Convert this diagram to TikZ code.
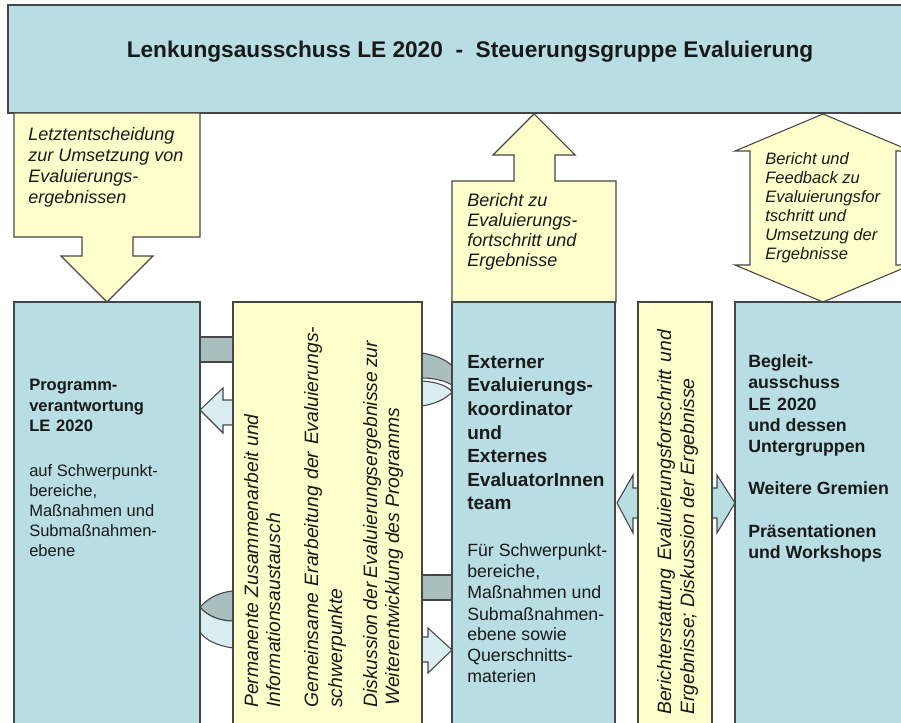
\documentclass[tikz,border=0pt]{standalone}
\usepackage{fontspec}
\setmainfont{Liberation Sans}
\definecolor{boxblue}{RGB}{184,222,228}
\definecolor{boxyellow}{RGB}{255,255,204}
\definecolor{bandgray}{RGB}{168,190,191}
\definecolor{lightblue}{RGB}{218,238,242}
\definecolor{edge}{RGB}{70,70,70}
\definecolor{ink}{RGB}{25,25,25}
\newcommand\fs[2]{\fontsize{#1}{#2}\selectfont}
\begin{document}
\begin{tikzpicture}[x=0.75pt,y=-0.75pt,
  shp/.style={draw=edge, line width=0.8pt, line join=miter},
  bluebox/.style={shp, fill=boxblue},
  yellowbox/.style={shp, fill=boxyellow},
  grayband/.style={shp, fill=bandgray},
  lightarrow/.style={shp, fill=lightblue},
  txt/.style={inner sep=0pt, anchor=base west, align=left, text=ink},
  rot/.style={inner sep=0pt, anchor=base west, rotate=90, text=ink, font=\fs{14.5}{17}\itshape}]
\useasboundingbox (0,0) rectangle (901,723);
\clip (0,0) rectangle (901,723);

% top box
\draw[bluebox] (8,5) rectangle (930,113);
\node[inner sep=0pt, anchor=base, text=ink, font=\fs{17}{20}\bfseries] (title) at (470,58)
  {Lenkungsausschuss LE 2020\ \ -\ \ Steuerungsgruppe Evaluierung};

% block arrows between top and bottom
\draw[yellowbox] (14,113) -- (200,113) -- (200,237) -- (133,237) -- (133,256) -- (153,256)
  -- (107,302) -- (61,256) -- (82,256) -- (82,237) -- (14,237) -- cycle;
\draw[yellowbox] (452,302) -- (452,181) -- (514,181) -- (514,155) -- (493,155) -- (534,114)
  -- (575,155) -- (555,155) -- (555,181) -- (616,181) -- (616,302) -- cycle;
\draw[yellowbox] (823,114) -- (911,151) -- (896,151) -- (896,265) -- (911,265) -- (823,302)
  -- (735,265) -- (750,265) -- (750,151) -- (735,151) -- cycle;

% connectors between bottom boxes
\draw[grayband] (195,337) rectangle (240,362);
\draw[lightarrow] (200,410) -- (223,388) -- (223,400) -- (240,400) -- (240,425) -- (223,425) -- (223,433) -- cycle;
\draw[grayband] (200,607) .. controls (210,596) and (222,592) .. (233,591) -- (233,621)
  .. controls (220,621) and (207,616) .. (200,607) -- cycle;
\draw[lightarrow] (200,607) .. controls (207,616) and (220,621) .. (233,621) -- (233,648)
  .. controls (218,646) and (205,640) .. (200,632) -- cycle;

\draw[grayband] (422,353) .. controls (435,355) and (447,360) .. (452,366) -- (452,385)
  .. controls (445,381) and (435,378) .. (422,378) -- cycle;
\draw[lightarrow] (422,381) .. controls (437,382) and (448,386) .. (452,392)
  .. controls (446,399) and (435,404) .. (422,406) -- cycle;
\draw[grayband] (415,575) rectangle (460,600);
\draw[lightarrow] (452,650) -- (428,628) -- (428,637) -- (415,637) -- (415,662) -- (428,662) -- (428,673) -- cycle;

\draw[bluebox] (617,503) -- (633,475) -- (633,488) -- (717,488) -- (717,475) -- (735,503)
  -- (717,533) -- (717,518) -- (633,518) -- (633,533) -- cycle;

% bottom boxes
\draw[bluebox] (14,302) rectangle (200,740);
\draw[yellowbox] (233,302) rectangle (422,740);
\draw[bluebox] (452,302) rectangle (615,740);
\draw[yellowbox] (638,302) rectangle (712,740);
\draw[bluebox] (735,302) rectangle (930,740);

% arrow texts (anchor = baseline of the last line)
\node[txt, font=\fs{13.5}{15.75}\itshape] (t1) at (28,204)
  {Letztentscheidung\\zur Umsetzung von\\Evaluierungs-\\ergebnissen};
\node[txt, font=\fs{13.5}{15}\itshape] (t2) at (467,267)
  {Bericht zu\\Evaluierungs-\\fortschritt und\\Ergebnisse};
\node[txt, font=\fs{12.4}{14.25}\itshape] (t3) at (765,260)
  {Bericht und\\Feedback zu\\Evaluierungsfor\\tschritt und\\Umsetzung der\\Ergebnisse};

% left box
\node[txt, font=\fs{12.4}{15.4}\bfseries] (p1) at (29,432)
  {Programm-\\verantwortung\\LE\hspace{0.35em}2020};
\node[txt, font=\fs{12.4}{15}] (p2) at (29,557)
  {auf Schwerpunkt-\\bereiche,\\Maßnahmen und\\Submaßnahmen-\\ebene};

% Externer box
\node[txt, font=\fs{14.25}{17.7}\bfseries] (e1) at (467,510)
  {Externer\\Evaluierungs-\\koordinator\\und\\Externes\\EvaluatorInnen\\team};
\node[txt, font=\fs{13.3}{15.75}] (e2) at (467,683)
  {Für Schwerpunkt-\\bereiche,\\Maßnahmen und\\Submaßnahmen-\\ebene sowie\\Querschnitts-\\materien};

% right box
\node[txt, font=\fs{13.3}{16.1}\bfseries] (b1) at (748,453)
  {Begleit-\\ausschuss\\LE\hspace{0.35em}2020\\und dessen\\Untergruppen};
\node[txt, font=\fs{13.3}{16}\bfseries] (b2) at (748,495) {Weitere Gremien};
\node[txt, font=\fs{13.3}{16}\bfseries] (b3) at (748,559) {Präsentationen\\und Workshops};

% rotated texts
\node[rot] (r1) at (258,708) {Permanente Zusammenarbeit und};
\node[rot] (r2) at (280,708) {Informationsaustausch};
\node[rot] (r3) at (318,708) {\makebox[285.75pt][s]{Gemeinsame Erarbeitung der Evaluierungs-}};
\node[rot] (r4) at (342,708) {schwerpunkte};
\node[rot] (r5) at (377,708) {\makebox[275.25pt][s]{Diskussion der Evaluierungsergebnisse zur}};
\node[rot] (r6) at (399,706) {Weiterentwicklung des Programms};
\node[rot] (r7) at (671,715) {\makebox[288.75pt][s]{Berichterstattung Evaluierungsfortschritt und}};
\node[rot] (r8) at (694,715) {Ergebnisse; Diskussion der Ergebnisse};
\end{tikzpicture}
\end{document}
